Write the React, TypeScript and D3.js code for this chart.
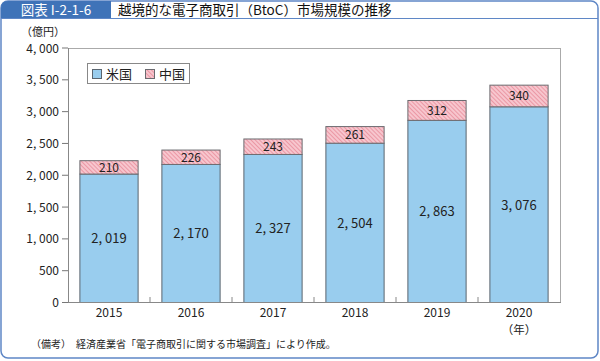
import React from "react";
import * as d3 from "d3";

const years = ["2015", "2016", "2017", "2018", "2019", "2020"];
const usValues = [2019, 2170, 2327, 2504, 2863, 3076];
const cnValues = [210, 226, 243, 261, 312, 340];
const yTicks = [0, 500, 1000, 1500, 2000, 2500, 3000, 3500, 4000];
const seriesNames = ["米国", "中国"];

const W = 600;
const H = 361;
const font = "'Noto Sans CJK JP', 'Noto Sans', sans-serif";

export default function App() {
  const x = d3.scaleBand().domain(years).range([68, 560]).paddingInner(0.29).paddingOuter(0.145);
  const y = d3.scaleLinear().domain([0, 4000]).range([302.5, 48]);
  const fmt = d3.format(",");
  const fmtLabel = (v: number) => fmt(v).replace(",", ", ");

  return (
    <svg width={W} height={H} style={{ position: "absolute", left: 0, top: 0, background: "#fff" }} fontFamily={font}>
      <defs>
        <pattern id="hatch" width="3" height="3" patternUnits="userSpaceOnUse" patternTransform="rotate(-45)">
          <rect width="3" height="3" fill="#f7c6ce" />
          <line x1="0" y1="0" x2="0" y2="3" stroke="#e3798a" strokeWidth="1.2" />
        </pattern>
      </defs>
      {/* frame */}
      <rect x={1} y={1} width={597} height={357} rx={7} ry={7} fill="#fff" stroke="#5f87c6" strokeWidth={1.5} />
      <path d="M1,18 L1,8 Q1,1 8,1 L111,1 L111,18 Z" fill="#3f73b8" />
      <line x1={1} y1={18.5} x2={598} y2={18.5} stroke="#5f87c6" strokeWidth={1.2} />
      <text x={56} y={15} textAnchor="middle" fill="#fff" fontSize={13.5}>図表 I-2-1-6</text>
      <text x={118} y={15} fill="#111" fontSize={13.5}>越境的な電子商取引（BtoC）市場規模の推移</text>

      {/* unit */}
      <text x={43} y={36} textAnchor="middle" fontSize={11} fill="#222">（億円）</text>

      {/* plot border */}
      <line x1={68} y1={48.5} x2={561} y2={48.5} stroke="#aaa" />
      <line x1={560.5} y1={48} x2={560.5} y2={302.5} stroke="#aaa" />

      {/* y axis */}
      {yTicks.map((t) => (
        <g key={t}>
          <line x1={62} x2={68} y1={y(t)} y2={y(t)} stroke="#777" />
          <text x={59} y={y(t) + 4.5} textAnchor="end" fontSize={12} fill="#222">{fmtLabel(t)}</text>
        </g>
      ))}

      {/* bars */}
      {years.map((yr, i) => {
        const x0 = x(yr)!;
        const bw = x.bandwidth();
        const us = usValues[i];
        const cn = cnValues[i];
        return (
          <g key={yr}>
            <rect x={x0} y={y(us)} width={bw} height={y(0) - y(us)} fill="#99cdee" stroke="#5b6670" strokeWidth={1} />
            <rect x={x0} y={y(us + cn)} width={bw} height={y(us) - y(us + cn)} fill="url(#hatch)" stroke="#6b6b70" strokeWidth={1} />
            <text x={x0 + bw / 2} y={(y(0) + y(us)) / 2 + 5} textAnchor="middle" fontSize={13} fill="#222">{fmtLabel(us)}</text>
            <text x={x0 + bw / 2} y={(y(us) + y(us + cn)) / 2 + 4.5} textAnchor="middle" fontSize={12} fill="#222">{cn}</text>
          </g>
        );
      })}

      {/* axes lines */}
      <line x1={68.5} y1={48} x2={68.5} y2={302.5} stroke="#888" />
      <line x1={68} y1={302.5} x2={561} y2={302.5} stroke="#888" />
      {years.slice(1).map((yr) => (
        <line key={yr} x1={x(yr)! - (x.step() - x.bandwidth()) / 2} x2={x(yr)! - (x.step() - x.bandwidth()) / 2} y1={297} y2={302.5} stroke="#888" />
      ))}
      {years.map((yr) => (
        <text key={yr} x={x(yr)! + x.bandwidth() / 2} y={317} textAnchor="middle" fontSize={12} fill="#222">{yr}</text>
      ))}
      <text x={x("2020")! + x.bandwidth() / 2} y={333.5} textAnchor="middle" fontSize={11.5} fill="#222">（年）</text>

      {/* legend */}
      <rect x={87.5} y={63.5} width={102} height={20} fill="#fff" stroke="#888" />
      <rect x={92.5} y={69.5} width={9} height={9} fill="#99cdee" stroke="#5b6670" />
      <text x={106} y={78.5} fontSize={13} fill="#222">{seriesNames[0]}</text>
      <rect x={145.5} y={69.5} width={9} height={9} fill="url(#hatch)" stroke="#6b6b70" />
      <text x={159} y={78.5} fontSize={13} fill="#222">{seriesNames[1]}</text>

      {/* note */}
      <text x={31} y={348} fontSize={10} fill="#222">（備考）　経済産業省「電子商取引に関する市場調査」により作成。</text>
    </svg>
  );
}
